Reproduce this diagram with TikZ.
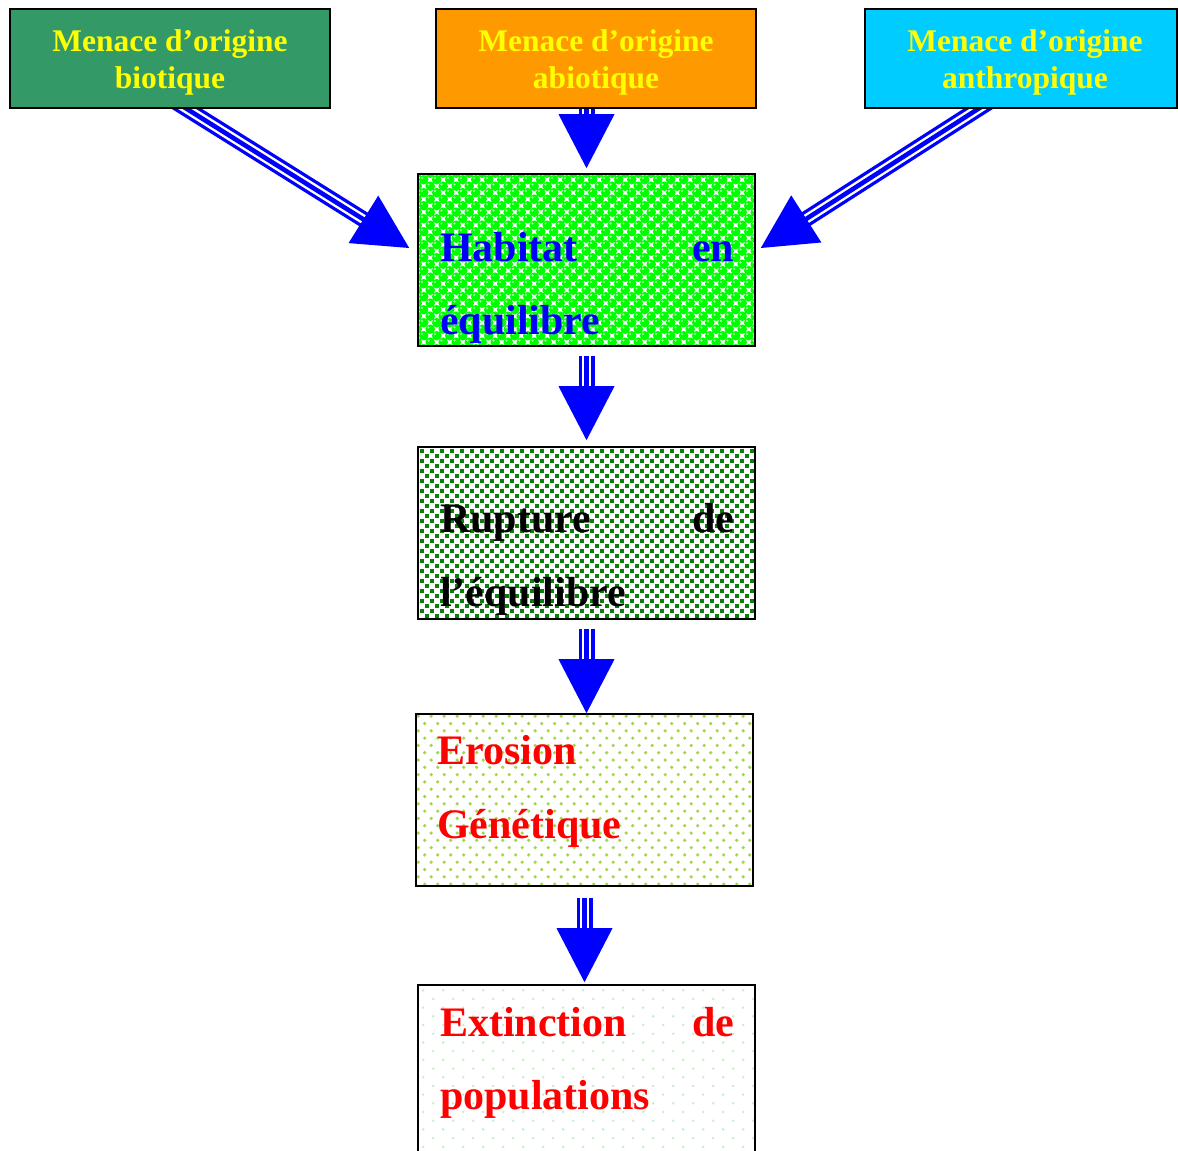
\documentclass[tikz,border=0pt]{standalone}
\usepackage{fontspec}
\setmainfont{Liberation Serif}
\usetikzlibrary{calc,backgrounds}
\definecolor{seagreen}{HTML}{339966}
\definecolor{orangebox}{HTML}{FF9900}
\definecolor{cyanbox}{HTML}{00CCFF}
\definecolor{ballgreen}{HTML}{00FF00}
\definecolor{dotdark}{HTML}{0A800A}
\definecolor{dotlime}{HTML}{A5D64A}
\definecolor{dotpale}{HTML}{C5F0C5}
\definecolor{arrowblue}{HTML}{0000FF}
\definecolor{txtred}{HTML}{FF0000}
\definecolor{txtyellow}{HTML}{FFFF00}

\tikzset{
  topbox/.style={draw=black, line width=2pt, minimum width=320pt, minimum height=99pt,
    inner sep=0pt, align=center, text=txtyellow,
    font=\bfseries\fontsize{31.5}{37}\selectfont},
  midbox/.style={draw=black, line width=1.6pt, minimum width=337pt, minimum height=172pt,
    inner sep=0pt},
  bigtxt/.style={anchor=base west, inner sep=0pt, font=\bfseries\fontsize{42}{50}\selectfont},
}

% #1: extension of the shaft behind the source box, #2: start, #3: tip
\newcommand\triarrow[3][0pt]{%
  \coordinate (hb) at ($(#3)!54pt!(#2)$);
  \coordinate (he) at ($(#3)!50pt!(#2)$);
  \coordinate (hs) at ($(#2)!-#1!(#3)$);
  \draw[arrowblue, line width=16pt] (hs) -- (he);
  \draw[white, line width=9.4pt] (hs) -- (he);
  \draw[arrowblue, line width=4.6pt] (hs) -- (he);
  \fill[arrowblue] (#3) -- ($(hb)!28pt!90:(#3)$) -- ($(hb)!28pt!-90:(#3)$) -- cycle;
}

\newcommand\habpattern[1]{%
  \begin{scope}
    \clip (#1.south west) rectangle (#1.north east);
    \begin{scope}[shift={(#1.north west)}]
      \foreach \i in {0,...,26}{\foreach \j in {0,...,13}{
        \fill[ballgreen] (\i*13, \j*13) circle (4.8pt);
        \fill[ballgreen] (\i*13+6.5, \j*13+6.5) circle (4.8pt);
        \fill[ballgreen!25!white] (\i*13-1.7, \j*13-1.7) circle (1.2pt);
        \fill[ballgreen!25!white] (\i*13+4.8, \j*13+4.8) circle (1.2pt);
      }}
    \end{scope}
  \end{scope}}

\newcommand\ruppattern[1]{%
  \begin{scope}
    \clip (#1.south west) rectangle (#1.north east);
    \begin{scope}[shift={(#1.north west)}]
      \foreach \i in {0,...,34}{\foreach \j in {0,...,18}{
        \fill[dotdark] (\i*10-2.1, \j*10-2.1) rectangle ++(4.2,4.2);
        \fill[dotdark] (\i*10+2.9, \j*10+2.9) rectangle ++(4.2,4.2);
      }}
    \end{scope}
  \end{scope}}

\newcommand\eropattern[1]{%
  \begin{scope}
    \clip (#1.south west) rectangle (#1.north east);
    \begin{scope}[shift={(#1.north west)}]
      \foreach \i in {0,...,26}{\foreach \j in {0,...,12}{
        \fill[dotlime] (\i*13+3, \j*14.6+3) circle (1.8pt);
        \fill[dotlime] (\i*13+9.5, \j*14.6+10.3) circle (1.8pt);
      }}
    \end{scope}
  \end{scope}}

\newcommand\extpattern[1]{%
  \begin{scope}
    \clip (#1.south west) rectangle (#1.north east);
    \begin{scope}[shift={(#1.north west)}]
      \foreach \i in {0,...,17}{\foreach \j in {0,...,10}{
        \fill[dotpale] (\i*20+6, \j*17.4+6) circle (1.4pt);
        \fill[dotpale] (\i*20+16, \j*17.4+14.7) circle (1.4pt);
      }}
    \end{scope}
  \end{scope}}

\begin{document}
\begin{tikzpicture}[x=1pt,y=-1pt]
  \useasboundingbox (0,0) rectangle (1178,1151);

  % top boxes
  \node[topbox, fill=seagreen] (bio) at (170,58.5) {\rule{0pt}{30pt}Menace d’origine\\biotique};
  \node[topbox, fill=orangebox] (abio) at (596,58.5) {\rule{0pt}{30pt}Menace d’origine\\abiotique};
  \node[topbox, fill=cyanbox, minimum width=312pt] (anth) at (1021,58.5)
    {\rule{0pt}{30pt}\hspace*{8pt}Menace d’origine\\\hspace*{8pt}anthropique};

  % chain boxes
  \node[midbox] (hab) at (586.5,260) {};
  \node[midbox] (rup) at (586.5,533) {};
  \node[midbox] (ero) at (584.5,800) {};
  \node[midbox] (ext) at (586.5,1071) {};

  % texts
  \node[bigtxt, text=arrowblue] (hab1) at (440,261) {\hbox to 294pt{Habitat\hfill en}};
  \node[bigtxt, text=arrowblue] (hab2) at (440,334) {équilibre};
  \node[bigtxt, text=black] (rup1) at (440,532) {\hbox to 294pt{Rupture\hfill de}};
  \node[bigtxt, text=black] (rup2) at (440,606) {l’équilibre};
  \node[bigtxt, text=txtred] (ero1) at (437,764) {Erosion};
  \node[bigtxt, text=txtred] (ero2) at (437,838) {Génétique};
  \node[bigtxt, text=txtred] (ext1) at (440,1036) {\hbox to 294pt{Extinction\hfill de}};
  \node[bigtxt, text=txtred] (ext2) at (440,1109) {populations};

  % connectors
  \coordinate (bioS) at ($(bio.south)+(17,0)$);
  \coordinate (bioE) at ($(hab.west)+(-8,-12)$);
  \coordinate (anthS) at ($(anth.south)+(-43,0)$);
  \coordinate (anthE) at ($(hab.east)+(5,-12)$);
  \coordinate (abioS) at (abio.south -| hab.north);
  \coordinate (abioE) at ($(hab.north)+(0,-5)$);
  \coordinate (habS) at ($(hab.south)+(0,9)$);
  \coordinate (rupE) at ($(rup.north)+(0,-6)$);
  \coordinate (rupS) at ($(rup.south)+(0,9)$);
  \coordinate (eroE) at (ero.north -| rup.south);
  \coordinate (eroS) at ($(ero.south)+(0,11)$);
  \coordinate (extE) at ($(ext.north -| ero.south)+(0,-2)$);

  \begin{pgfonlayer}{background}
    \fill[white] (0,0) rectangle (1178,1151);
    \habpattern{hab}
    \ruppattern{rup}
    \eropattern{ero}
    \extpattern{ext}
    \triarrow[18pt]{bioS}{bioE}
    \triarrow[18pt]{abioS}{abioE}
    \triarrow[18pt]{anthS}{anthE}
  \end{pgfonlayer}
  \triarrow{habS}{rupE}
  \triarrow{rupS}{eroE}
  \triarrow{eroS}{extE}
\end{tikzpicture}
\end{document}
